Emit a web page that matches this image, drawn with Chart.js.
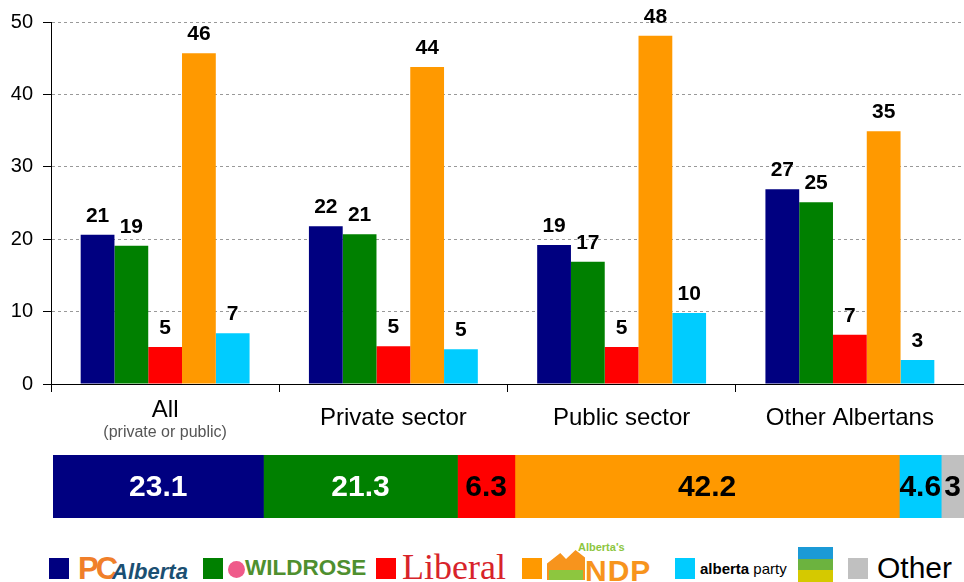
<!DOCTYPE html>
<html>
<head>
<meta charset="utf-8">
<script src="https://cdn.jsdelivr.net/npm/chart.js@4.4.1/dist/chart.umd.min.js"></script>
<style>
  body { margin: 0; background: #fff; }
  #wrap { position: relative; width: 964px; height: 582px; overflow: hidden; font-family: "Liberation Sans", Arial, sans-serif; }
  #mainChart { position: absolute; left: 0; top: 0; }
  #totalChart { position: absolute; left: 0; top: 445px; }
  .sq { position: absolute; top: 558px; width: 20px; height: 21px; }
  .lg { position: absolute; white-space: nowrap; line-height: 1; }
</style>
</head>
<body>
<div id="wrap">
  <canvas id="mainChart" width="964" height="445"></canvas>
  <canvas id="totalChart" width="964" height="85"></canvas>

  <!-- legend: party logos approximated with text -->
  <div class="sq" style="left:49px;background:#000080"></div>
  <div class="lg" style="left:78px;top:553px;">
    <span style="font-weight:bold;font-size:31px;color:#f07f2a;letter-spacing:-3px;">PC</span><span style="font-weight:bold;font-style:italic;font-size:22px;color:#1b4f72;margin-left:-3px;">Alberta</span>
  </div>

  <div class="sq" style="left:203px;background:#008000"></div>
  <div class="lg" style="left:228px;top:561px;width:17px;height:17px;border-radius:50%;background:#ef5a8a;"></div>
  <div class="lg" style="left:245px;top:557px;font-weight:bold;font-size:22.5px;color:#4f8f2f;">WILDROSE</div>

  <div class="sq" style="left:376px;background:#ff0000"></div>
  <div class="lg" style="left:402px;top:549px;font-family:'Liberation Serif','Times New Roman',serif;font-size:36px;color:#d8232a;">Liberal</div>

  <div class="sq" style="left:522px;background:#ff9900"></div>
  <div class="lg" style="left:578px;top:542px;font-weight:bold;font-size:11px;color:#8dc63f;">Alberta's</div>
  <div class="lg" style="left:547px;top:550px;width:38px;height:30px;background:#f7941d;clip-path:polygon(0 45%,35% 10%,50% 30%,75% 0,100% 25%,100% 100%,0 100%);"></div>
  <div class="lg" style="left:549px;top:570px;width:34px;height:10px;background:#8dc63f;"></div>
  <div class="lg" style="left:585px;top:556px;font-weight:bold;font-size:30px;color:#f7941d;letter-spacing:1px;">NDP</div>

  <div class="sq" style="left:675px;background:#00ccff"></div>
  <div class="lg" style="left:700px;top:561px;font-size:15px;color:#000;"><b>alberta</b> party</div>
  <div class="lg" style="left:798px;top:547px;width:35px;height:12px;background:#1b9ad6;"></div>
  <div class="lg" style="left:798px;top:559px;width:35px;height:11px;background:#6cb33f;"></div>
  <div class="lg" style="left:798px;top:570px;width:35px;height:12px;background:#d5c900;"></div>

  <div class="sq" style="left:848px;background:#c0c0c0"></div>
  <div class="lg" style="left:877px;top:553px;font-size:30px;color:#000;">Other</div>
</div>

<script>
// ---- data ----
const categories = ['All', 'Private sector', 'Public sector', 'Other Albertans'];
const categoryNotes = ['(private or public)', '', '', ''];

const parties = ['PC Alberta', 'Wildrose', 'Liberal', "Alberta's NDP", 'Alberta Party'];
const pcValues = [20.6, 21.8, 19.2, 26.9];
const wildroseValues = [19.1, 20.7, 16.9, 25.1];
const liberalValues = [5.1, 5.2, 5.1, 6.8];
const ndpValues = [45.7, 43.8, 48.1, 34.9];
const albertaPartyValues = [7.0, 4.8, 9.8, 3.3];

const yMin = 0;
const yMax = 50;
const yStep = 10;

const overallParties = ['PC Alberta', 'Wildrose', 'Liberal', "Alberta's NDP", 'Alberta Party', 'Other'];
const overallValues = [23.1, 21.3, 6.3, 42.2, 4.6, 2.5];
const overallDecimals = [1, 1, 1, 1, 1, 0];

// ---- styles ----
const partyColors = ['#000080', '#008000', '#ff0000', '#ff9900', '#00ccff', '#c0c0c0'];
const overallLabelColors = ['#fff', '#fff', '#000', '#000', '#000', '#000'];
const FONT = '"Liberation Sans", Arial, sans-serif';

const seriesValues = [pcValues, wildroseValues, liberalValues, ndpValues, albertaPartyValues];

// value labels above the bars
const barLabels = {
  id: 'barLabels',
  afterDatasetsDraw(chart) {
    const ctx = chart.ctx;
    ctx.save();
    ctx.font = 'bold 21px ' + FONT;
    ctx.fillStyle = '#000';
    ctx.textAlign = 'center';
    ctx.textBaseline = 'alphabetic';
    chart.data.datasets.forEach((ds, i) => {
      chart.getDatasetMeta(i).data.forEach((bar, j) => {
        ctx.fillText(String(Math.round(ds.data[j])), bar.x, bar.y - 13);
      });
    });
    ctx.restore();
  }
};

// category names under the x axis (with the small note under "All")
const categoryLabels = {
  id: 'categoryLabels',
  afterDraw(chart) {
    const ctx = chart.ctx;
    const xs = chart.scales.x;
    ctx.save();
    ctx.textAlign = 'center';
    ctx.textBaseline = 'middle';
    categories.forEach((name, i) => {
      const x = xs.getPixelForValue(i);
      const note = categoryNotes[i];
      ctx.fillStyle = '#000';
      ctx.font = '24px ' + FONT;
      ctx.fillText(name, x, note ? 410 : 418);
      if (note) {
        ctx.fillStyle = '#555';
        ctx.font = '16px ' + FONT;
        ctx.fillText(note, x, 433);
      }
    });
    ctx.restore();
  }
};

new Chart(document.getElementById('mainChart'), {
  type: 'bar',
  data: {
    labels: categories,
    datasets: parties.map((p, i) => ({
      label: p,
      data: seriesValues[i],
      backgroundColor: partyColors[i],
      borderWidth: 0,
      categoryPercentage: 0.74,
      barPercentage: 1
    }))
  },
  options: {
    responsive: false,
    animation: false,
    layout: { padding: { top: 20, right: 0, left: 0, bottom: 0 } },
    plugins: { legend: { display: false }, tooltip: { enabled: false } },
    scales: {
      x: {
        afterFit(scale) { scale.height = 61; },
        ticks: { display: false },
        grid: {
          display: true,
          offset: true,
          drawOnChartArea: false,
          drawTicks: true,
          tickLength: 8,
          tickColor: '#000',
          tickBorderDash: []
        },
        border: { display: true, color: '#000', width: 1 }
      },
      y: {
        min: yMin,
        max: yMax,
        afterFit(scale) { scale.width = 51; },
        ticks: {
          stepSize: yStep,
          padding: 10,
          color: '#000',
          font: { family: FONT, size: 20 }
        },
        grid: {
          color: '#999',
          lineWidth: 1,
          tickLength: 8,
          tickColor: '#000',
          tickBorderDash: []
        },
        border: { display: true, color: '#000', width: 1, dash: [3, 3] }
      }
    }
  },
  plugins: [barLabels, categoryLabels]
});

// overall stacked bar
const totalLabels = {
  id: 'totalLabels',
  afterDatasetsDraw(chart) {
    const ctx = chart.ctx;
    ctx.save();
    ctx.font = 'bold 30px ' + FONT;
    ctx.textAlign = 'center';
    ctx.textBaseline = 'middle';
    chart.data.datasets.forEach((ds, i) => {
      const bar = chart.getDatasetMeta(i).data[0];
      ctx.fillStyle = overallLabelColors[i];
      ctx.fillText(ds.data[0].toFixed(overallDecimals[i]), (bar.x + bar.base) / 2, bar.y + 1);
    });
    ctx.restore();
  }
};

const overallTotal = overallValues.reduce((a, b) => a + b, 0);

new Chart(document.getElementById('totalChart'), {
  type: 'bar',
  data: {
    labels: ['Overall'],
    datasets: overallParties.map((p, i) => ({
      label: p,
      data: [overallValues[i]],
      backgroundColor: partyColors[i],
      borderWidth: 0,
      barPercentage: 1,
      categoryPercentage: 1
    }))
  },
  options: {
    indexAxis: 'y',
    responsive: false,
    animation: false,
    layout: { padding: { top: 10, bottom: 12, left: 53, right: 0 } },
    plugins: { legend: { display: false }, tooltip: { enabled: false } },
    scales: {
      x: { stacked: true, min: 0, max: overallTotal, display: false },
      y: { stacked: true, display: false }
    }
  },
  plugins: [totalLabels]
});
</script>
</body>
</html>
